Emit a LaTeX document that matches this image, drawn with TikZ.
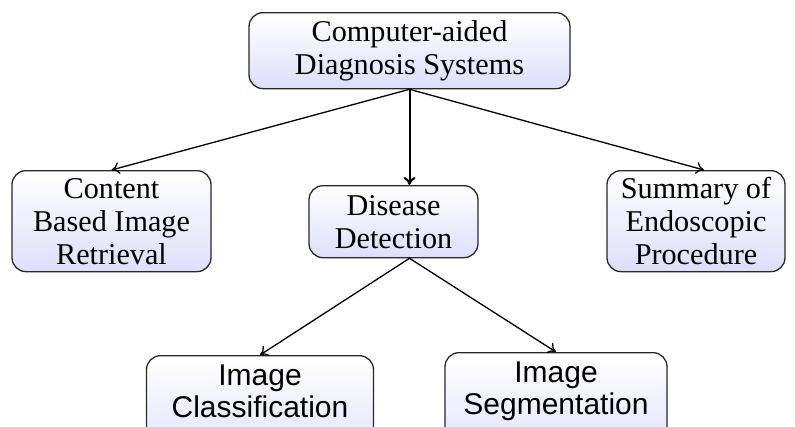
\documentclass[tikz,border=0pt]{standalone}
\usepackage{fontspec}
\setmainfont{Liberation Serif}
\newfontfamily\boxsans{Liberation Sans}
\usetikzlibrary{arrows.meta}
\begin{document}
\begin{tikzpicture}[x=1pt,y=1pt,
  box/.style={draw={rgb,255:red,40;green,40;blue,40}, line width=1.3pt,
    rounded corners=14pt, inner sep=0pt, align=center, anchor=north,
    top color=white, bottom color={rgb,255:red,222;green,222;blue,250},
    font=\fontsize{30.2}{33}\selectfont},
  sansbox/.style={box, font=\boxsans\fontsize{30}{32}\selectfont},
  link/.style={-{To[length=8pt,width=12pt]}, line width=1.3pt}]
\useasboundingbox (0,0) rectangle (795,-426);
\clip (0,0) rectangle (795,-426);

% top level
\node[box, minimum width=321, minimum height=76] (root) at (409.5,-12)
  {Computer-aided\\Diagnosis Systems};

% second level
\node[box, minimum width=199, minimum height=101] (cbir) at (111.5,-170)
  {Content\\Based Image\\Retrieval};
\node[box, minimum width=169, minimum height=72] (dd) at (393.5,-185)
  {Disease\\Detection};
\node[box, minimum width=178, minimum height=101] (sum) at (696,-170)
  {Summary of\\Endoscopic\\Procedure};

% third level: boxes run past the lower edge
\node[sansbox, minimum width=227, minimum height=112] (ic) at (260,-355)
  {Image\\Classification\rule[-40pt]{0pt}{40pt}};
\node[sansbox, minimum width=222, minimum height=112] (is) at (556,-352)
  {Image\\Segmentation\rule[-40pt]{0pt}{40pt}};

% connectors
\draw[link] (root.south) -- (cbir.north);
\draw[link, line width=2pt] (root.south) -- (dd.north -| root.south);
\draw[link] (root.south) -- ([xshift=8pt]sum.north);
\draw[link] (dd.south -| root.south) -- (ic.north);
\draw[link] (dd.south -| root.south) -- (is.north);
\end{tikzpicture}
\end{document}
